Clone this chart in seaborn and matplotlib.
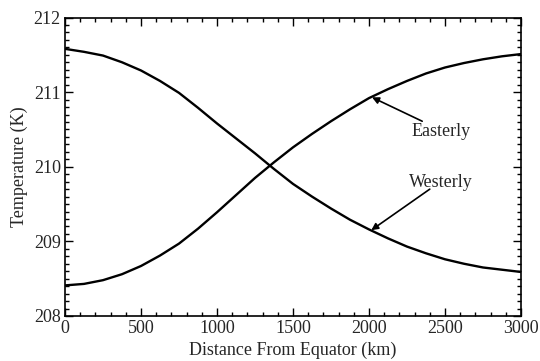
import matplotlib
matplotlib.use("Agg")
import matplotlib.pyplot as plt
from matplotlib.ticker import MultipleLocator
import seaborn as sns
import pandas as pd

distance = [0, 125, 250, 375, 500, 625, 750, 875, 1000, 1125, 1250, 1375, 1500,
            1625, 1750, 1875, 2000, 2125, 2250, 2375, 2500, 2625, 2750, 2875, 3000]
westerly = [211.58, 211.54, 211.49, 211.40, 211.29, 211.15, 210.99, 210.79, 210.58,
            210.38, 210.18, 209.97, 209.77, 209.60, 209.44, 209.29, 209.16, 209.04,
            208.93, 208.84, 208.76, 208.70, 208.65, 208.62, 208.59]
easterly = [208.41, 208.43, 208.48, 208.56, 208.67, 208.81, 208.97, 209.17, 209.39,
            209.62, 209.85, 210.06, 210.26, 210.44, 210.61, 210.77, 210.92, 211.04,
            211.15, 211.25, 211.33, 211.39, 211.44, 211.48, 211.51]

df = pd.DataFrame({
    "Distance": distance * 2,
    "Temperature": westerly + easterly,
    "Wind": ["Westerly"] * len(distance) + ["Easterly"] * len(distance),
})

sns.set_style("white")
plt.rcParams["font.family"] = ["Liberation Serif", "DejaVu Serif"]

fig = plt.figure(figsize=(5.4, 3.61), dpi=100)
ax = fig.add_axes([0.1204, 0.1247, 0.8444, 0.8268])

sns.lineplot(data=df, x="Distance", y="Temperature", hue="Wind",
             palette={"Westerly": "black", "Easterly": "black"},
             linewidth=1.7, legend=False, ax=ax)

ax.set_xlim(0, 3000)
ax.set_ylim(208, 212)
ax.xaxis.set_major_locator(MultipleLocator(500))
ax.xaxis.set_minor_locator(MultipleLocator(100))
ax.yaxis.set_major_locator(MultipleLocator(1))
ax.yaxis.set_minor_locator(MultipleLocator(0.1))
ax.tick_params(which="both", direction="in", top=True, right=True,
               bottom=True, left=True, color="black", width=1.0)
ax.tick_params(which="major", length=6, labelsize=13, pad=3)
ax.tick_params(which="minor", length=3)
for s in ax.spines.values():
    s.set_color("black")
    s.set_linewidth(1.2)

ax.set_xlabel("Distance From Equator (km)", fontsize=13, labelpad=3)
ax.set_ylabel("Temperature (K)", fontsize=13, labelpad=4)

arrow = dict(arrowstyle="-|>", color="black", lw=1.2,
             mutation_scale=10, shrinkA=0, shrinkB=0)
ax.text(2474, 210.47, "Easterly", fontsize=13, ha="center", va="center")
ax.annotate("", xy=(2020, 210.93), xytext=(2350, 210.61), arrowprops=arrow)
ax.text(2474, 209.79, "Westerly", fontsize=13, ha="center", va="center")
ax.annotate("", xy=(2015, 209.15), xytext=(2400, 209.70), arrowprops=arrow)

fig.savefig("out.png", dpi=100)
